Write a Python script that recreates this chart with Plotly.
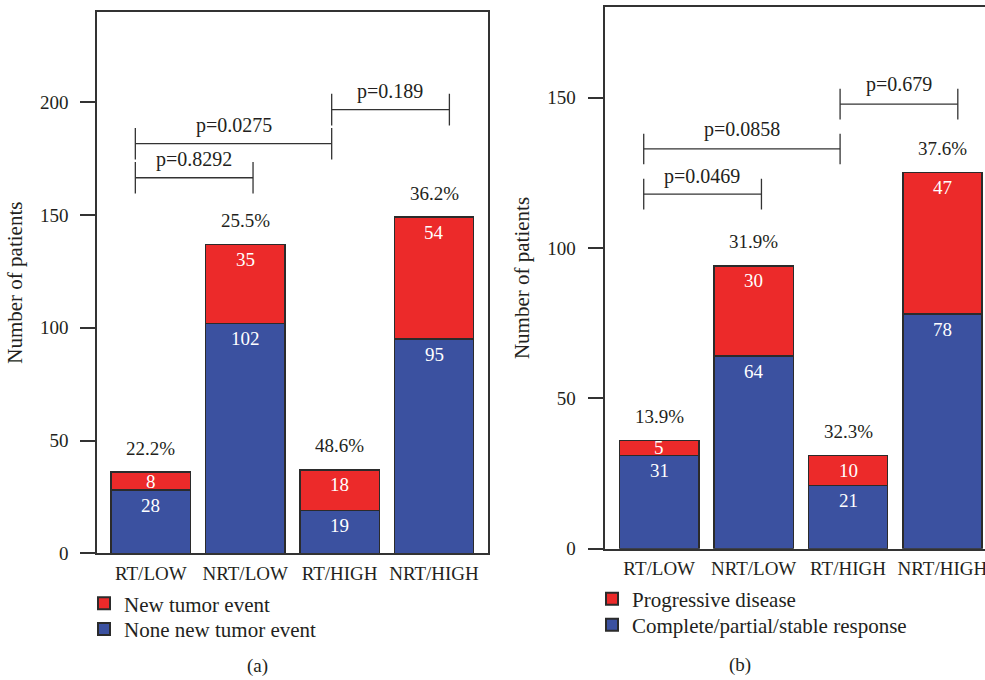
import plotly.graph_objects as go

# ---------------- data ----------------
categories = ["RT/LOW", "NRT/LOW", "RT/HIGH", "NRT/HIGH"]

# panel (a)
a_event = [8, 35, 18, 54]          # New tumor event
a_none = [28, 102, 19, 95]         # None new tumor event
a_event_name = "New tumor event"
a_none_name = "None new tumor event"
a_pvalues = ["p=0.8292", "p=0.0275", "p=0.189"]

# panel (b)
b_prog = [5, 30, 10, 47]           # Progressive disease
b_resp = [31, 64, 21, 78]          # Complete/partial/stable response
b_prog_name = "Progressive disease"
b_resp_name = "Complete/partial/stable response"
b_pvalues = ["p=0.0469", "p=0.0858", "p=0.679"]

y_ticks_a = [0, 50, 100, 150, 200]
y_ticks_b = [0, 50, 100, 150]

# ---------------- style ----------------
RED = "#EC2A2A"
BLUE = "#3B51A0"
INK = "#231F20"
EDGE = "#2b2b2b"
FONT = "Liberation Serif"
W, H = 985, 680

xs = list(range(len(categories)))
BAR_W = 0.84

fig = go.Figure()
fig.update_layout(template="none")


def add_panel(bottom, top, bottom_name, top_name, xa, ya, legends, px_per_unit):
    for vals, base, name, color, leg in ((bottom, [0] * len(bottom), bottom_name, BLUE, legends[0]),
                                         (top, bottom, top_name, RED, legends[1])):
        fig.add_trace(go.Bar(
            x=xs, y=vals, name=name, width=BAR_W,
            marker=dict(color=color, line=dict(color=EDGE, width=1.5)),
            xaxis=xa, yaxis=ya, legend=leg, hoverinfo="skip"))
        # segment value labels (white, near the top of each segment)
        for i, v in enumerate(vals):
            seg_top = base[i] + v
            if v * px_per_unit < 30:
                yy, shift = base[i] + v / 2, 0
            else:
                yy, shift = seg_top, -15
            fig.add_annotation(x=xs[i], y=yy, xref=xa, yref=ya, text=str(v),
                               showarrow=False, yshift=shift, yanchor="middle",
                               font=dict(family=FONT, size=19, color="white"))
    # percentage labels above bars
    for i, (b, t) in enumerate(zip(bottom, top)):
        tot = b + t
        fig.add_annotation(x=xs[i], y=tot, xref=xa, yref=ya,
                           text=f"{100 * t / tot:.1f}%", showarrow=False,
                           yshift=24, yanchor="middle",
                           font=dict(family=FONT, size=19, color=INK))


# pixel heights of one unit on each y axis (for label placement only)
add_panel(a_none, a_event, a_none_name, a_event_name, "x", "y", ("legend2", "legend"), 2.254)
add_panel(b_resp, b_prog, b_resp_name, b_prog_name, "x2", "y2", ("legend4", "legend3"), 3.006)

# ---------------- significance brackets ----------------
# bracket geometry: (x0, x1, y, half tick height, label x, label y)
L, M1, M2, R = -0.164, 1.083, 1.916, 3.163
brackets_a = [(L, M1, 166.5, 7.0, 0.46, 174.5),
              (L, M2, 181.6, 7.0, 0.877, 189.8),
              (M2, R, 196.7, 7.0, 2.537, 204.8)]
brackets_b = [(L, M1, 117.9, 5.1, 0.455, 123.8),
              (L, M2, 132.9, 5.1, 0.874, 139.5),
              (M2, R, 147.8, 5.1, 2.535, 154.5)]


def add_brackets(brs, labels, xa, ya):
    for (x0, x1, y, h, lx, ly), lab in zip(brs, labels):
        line = dict(color="#333333", width=1.3)
        fig.add_shape(type="line", x0=x0, x1=x1, y0=y, y1=y, xref=xa, yref=ya, line=line)
        fig.add_shape(type="line", x0=x0, x1=x0, y0=y - h, y1=y + h, xref=xa, yref=ya, line=line)
        fig.add_shape(type="line", x0=x1, x1=x1, y0=y - h, y1=y + h, xref=xa, yref=ya, line=line)
        fig.add_annotation(x=lx, y=ly, xref=xa, yref=ya, text=lab, showarrow=False,
                           yanchor="middle", font=dict(family=FONT, size=20, color=INK))


add_brackets(brackets_a, a_pvalues, "x", "y")
add_brackets(brackets_b, b_pvalues, "x2", "y2")

# ---------------- axes ----------------
axis_common = dict(showgrid=False, zeroline=False, showline=True, automargin=False,
                   linecolor="#333333", linewidth=1.5, ticklabeloverflow="allow",
                   tickfont=dict(family=FONT, size=19, color=INK))

fig.update_layout(
    xaxis=dict(domain=[97 / W, 488 / W], range=[-0.57, 3.572],
               tickvals=xs, ticktext=categories, ticks="", mirror=True,
               ticklabelstandoff=2, anchor="y", **axis_common),
    yaxis=dict(domain=[1 - 553.3 / H, 1 - 12 / H], range=[0, 240],
               tickvals=y_ticks_a, ticks="outside", ticklen=15, tickwidth=1.5,
               tickcolor="#333333", mirror=True, ticklabelstandoff=8, anchor="x",
               title=dict(text="Number of patients", standoff=12,
                          font=dict(family=FONT, size=21, color=INK)),
               **axis_common),
    xaxis2=dict(domain=[605.3 / W, 1.0], range=[-0.571, 3.451],
                tickvals=xs, ticktext=categories, ticks="", mirror=True,
                ticklabelstandoff=2, anchor="y2", **axis_common),
    yaxis2=dict(domain=[1 - 548.7 / H, 1 - 7.3 / H], range=[0, 180],
                tickvals=y_ticks_b, ticks="outside", ticklen=16, tickwidth=1.5,
                tickcolor="#333333", mirror=False, ticklabelstandoff=8, anchor="x2",
                title=dict(text="Number of patients", standoff=12,
                           font=dict(family=FONT, size=21, color=INK)),
                **axis_common),
)

# ---------------- legends & captions ----------------
leg_common = dict(orientation="v", bgcolor="rgba(0,0,0,0)",
                  font=dict(family=FONT, size=21, color=INK),
                  xanchor="left", yanchor="middle", itemsizing="constant",
                  borderwidth=0)
fig.update_layout(
    barmode="stack",
    width=W, height=H,
    autosize=False,
    margin=dict(l=0, r=0, t=0, b=0, pad=0, autoexpand=False),
    paper_bgcolor="white", plot_bgcolor="white",
    showlegend=True,
    legend=dict(x=84 / W, y=1 - 603.7 / H, **leg_common),
    legend2=dict(x=84 / W, y=1 - 629.3 / H, **leg_common),
    legend3=dict(x=592 / W, y=1 - 599 / H, **leg_common),
    legend4=dict(x=592 / W, y=1 - 625 / H, **leg_common),
)

fig.add_annotation(x=245 / W, y=1 - 666 / H, xref="paper", yref="paper", text="(a)",
                   showarrow=False, yanchor="middle",
                   font=dict(family=FONT, size=19, color=INK))
fig.add_annotation(x=753 / W, y=1 - 665 / H, xref="paper", yref="paper", text="(b)",
                   showarrow=False, yanchor="middle",
                   font=dict(family=FONT, size=19, color=INK))

fig.write_html(
    "out.html",
    config={"displayModeBar": False, "responsive": False},
    post_script="document.body.style.margin='0';document.body.style.overflow='hidden';",
)
